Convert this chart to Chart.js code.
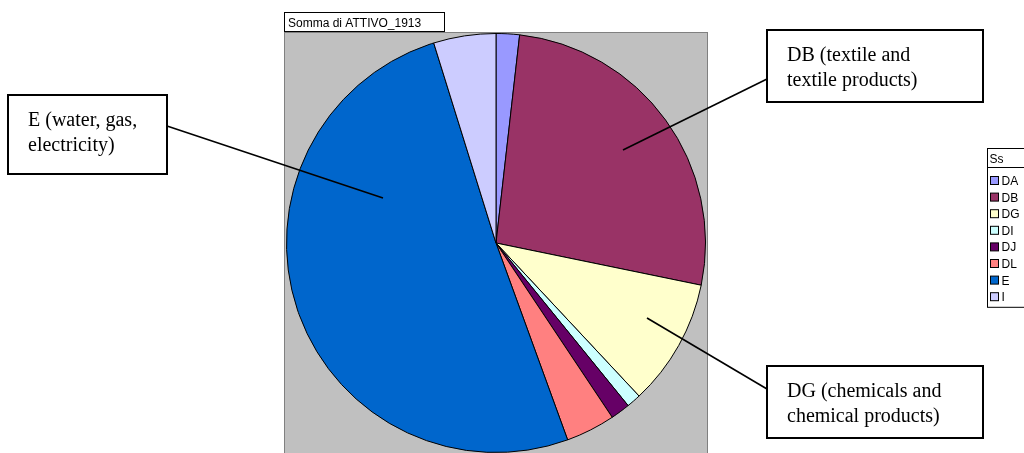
<!DOCTYPE html>
<html>
<head>
<meta charset="utf-8">
<script src="https://cdn.jsdelivr.net/npm/chart.js@4/dist/chart.umd.min.js"></script>
<style>
  html, body { margin: 0; padding: 0; background: #fff; }
  #wrap { width: 1024px; height: 453px; }
</style>
</head>
<body>
<div id="wrap"><canvas id="chart" width="1024" height="453"></canvas></div>
<script>
const categories = ["DA", "DB", "DG", "DI", "DJ", "DL", "E", "I"];
const values = [1.8, 26.4, 9.8, 1.1, 1.5, 3.8, 50.7, 4.8];
const colors = ["#9999FF", "#993366", "#FFFFCC", "#CCFFFF", "#660066", "#FF8080", "#0066CC", "#CCCCFF"];
const chartTitle = "Somma di ATTIVO_1913";
const legendTitle = "Ss";

// callout boxes: text lines, box, leader line
const callouts = [
  { lines: ["E (water, gas,", "electricity)"], box: [8, 95, 159, 79], from: [167, 126], to: [383, 198] },
  { lines: ["DB (textile and", "textile products)"], box: [767, 30, 216, 72], from: [767, 79], to: [623, 150] },
  { lines: ["DG (chemicals and", "chemical products)"], box: [767, 366, 216, 72], from: [767, 389], to: [647, 318] }
];

const decorations = {
  id: "decorations",
  beforeDraw(chart) {
    const ctx = chart.ctx;
    const a = chart.chartArea;
    ctx.save();
    ctx.fillStyle = "#C0C0C0";
    ctx.fillRect(a.left - 1, a.top, a.right - a.left + 2, a.bottom - a.top + 2);
    ctx.strokeStyle = "#808080";
    ctx.lineWidth = 1;
    ctx.strokeRect(a.left - 1.5, a.top - 0.5, a.right - a.left + 3, a.bottom - a.top + 4);
    ctx.restore();
  },
  afterDraw(chart) {
    const ctx = chart.ctx;
    const a = chart.chartArea;
    ctx.save();

    // title box
    ctx.fillStyle = "#fff";
    ctx.fillRect(a.left - 1.5, 12.5, 160, 19);
    ctx.strokeStyle = "#000";
    ctx.lineWidth = 1;
    ctx.strokeRect(a.left - 1.5, 12.5, 160, 19);
    ctx.fillStyle = "#000";
    ctx.font = "12px 'Liberation Sans', Arial, sans-serif";
    ctx.textBaseline = "alphabetic";
    ctx.fillText(chartTitle, a.left + 2, 27);

    // callouts
    ctx.font = "20px 'Liberation Serif', 'Times New Roman', serif";
    callouts.forEach(c => {
      ctx.strokeStyle = "#000";
      ctx.lineWidth = 1.6;
      ctx.beginPath();
      ctx.moveTo(c.from[0], c.from[1]);
      ctx.lineTo(c.to[0], c.to[1]);
      ctx.stroke();
      const [x, y, w, h] = c.box;
      ctx.fillStyle = "#fff";
      ctx.fillRect(x, y, w, h);
      ctx.lineWidth = 2;
      ctx.strokeRect(x, y, w, h);
      ctx.fillStyle = "#000";
      c.lines.forEach((t, i) => ctx.fillText(t, x + 20, y + 31 + i * 25));
    });

    // legend
    const lx = 987.5, ly = 148.5, rowH = 16.6;
    const lh = 22 + categories.length * rowH + 4;
    ctx.fillStyle = "#fff";
    ctx.fillRect(lx, ly, 60, lh);
    ctx.strokeStyle = "#000";
    ctx.lineWidth = 1;
    ctx.strokeRect(lx, ly, 60, lh);
    ctx.beginPath();
    ctx.moveTo(lx, ly + 19);
    ctx.lineTo(lx + 60, ly + 19);
    ctx.stroke();
    ctx.fillStyle = "#000";
    ctx.font = "12px 'Liberation Sans', Arial, sans-serif";
    ctx.fillText(legendTitle, lx + 2, ly + 14);
    categories.forEach((cat, i) => {
      const cy = ly + 32 + i * rowH;
      ctx.fillStyle = chart.data.datasets[0].backgroundColor[i];
      ctx.fillRect(lx + 3, cy - 4, 8, 8);
      ctx.strokeStyle = "#000";
      ctx.strokeRect(lx + 3, cy - 4, 8, 8);
      ctx.fillStyle = "#000";
      ctx.fillText(cat, lx + 14, cy + 4.5);
    });
    ctx.restore();
  }
};

new Chart(document.getElementById("chart"), {
  type: "pie",
  data: {
    labels: categories,
    datasets: [{
      data: values,
      backgroundColor: colors,
      borderColor: "#000",
      borderWidth: 1,
      hoverOffset: 0
    }]
  },
  options: {
    responsive: false,
    animation: false,
    events: [],
    layout: { padding: { left: 286, right: 318, top: 33, bottom: 0 } },
    plugins: {
      legend: { display: false },
      title: { display: false },
      tooltip: { enabled: false }
    }
  },
  plugins: [decorations]
});
</script>
</body>
</html>
